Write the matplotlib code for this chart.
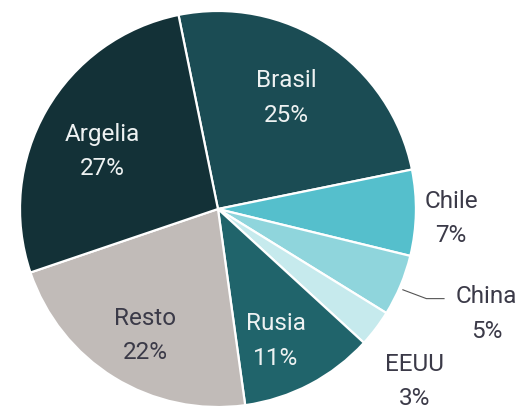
import numpy as np
import matplotlib.pyplot as plt

# datos
paises = ["Brasil", "Chile", "China", "EEUU", "Rusia", "Resto", "Argelia"]
valores = [25, 7, 5, 3, 11, 22, 27]
colores = ["#1b4c54", "#55bfcc", "#8fd5dc", "#c6eaed", "#20646b", "#c1bbb8", "#133137"]

# distancia de cada etiqueta al centro (en radios), giro extra (grados) y color del texto
dist = [0.67, 1.19, 1.47, 1.33, 0.73, 0.74, 0.66]
giro = [2, -1, 1.5, -4, -4, 1.5, 3]
col_txt = ["#eef2f2", "#3b3a48", "#3b3a48", "#3b3a48", "#eef2f2", "#3b3a48", "#eef2f2"]

plt.rcParams['font.family'] = ['Roboto', 'DejaVu Sans']

fig = plt.figure(figsize=(5.31, 4.10), dpi=100)
ax = fig.add_axes([0, 0, 1, 1])

wedges, _ = ax.pie(valores, colors=colores, startangle=101.5, counterclock=False,
                   radius=1.01, wedgeprops=dict(edgecolor="white", linewidth=1.6))

for w, nombre, v, d, g, c in zip(wedges, paises, valores, dist, giro, col_txt):
    ang = np.deg2rad((w.theta1 + w.theta2) / 2 + g)
    x, y = d * np.cos(ang), d * np.sin(ang)
    ax.text(x, y, f"{nombre}\n{v}%", ha="center", va="center", fontsize=17.5,
            color=c, linespacing=1.65)

# linea guia de China
w = wedges[2]
ang = np.deg2rad((w.theta1 + w.theta2) / 2)
x0, y0 = 0.99 * np.cos(ang), 0.99 * np.sin(ang)
ax.plot([x0 + 0.03, x0 + 0.15, x0 + 0.24], [y0 - 0.03, y0 - 0.075, y0 - 0.075],
        color="#555555", lw=0.8)

ax.set_xlim(-1.112, 1.597)
ax.set_ylim(-1.020, 1.071)
ax.set_aspect("auto")
ax.axis("off")

fig.savefig("out.png", dpi=100)
